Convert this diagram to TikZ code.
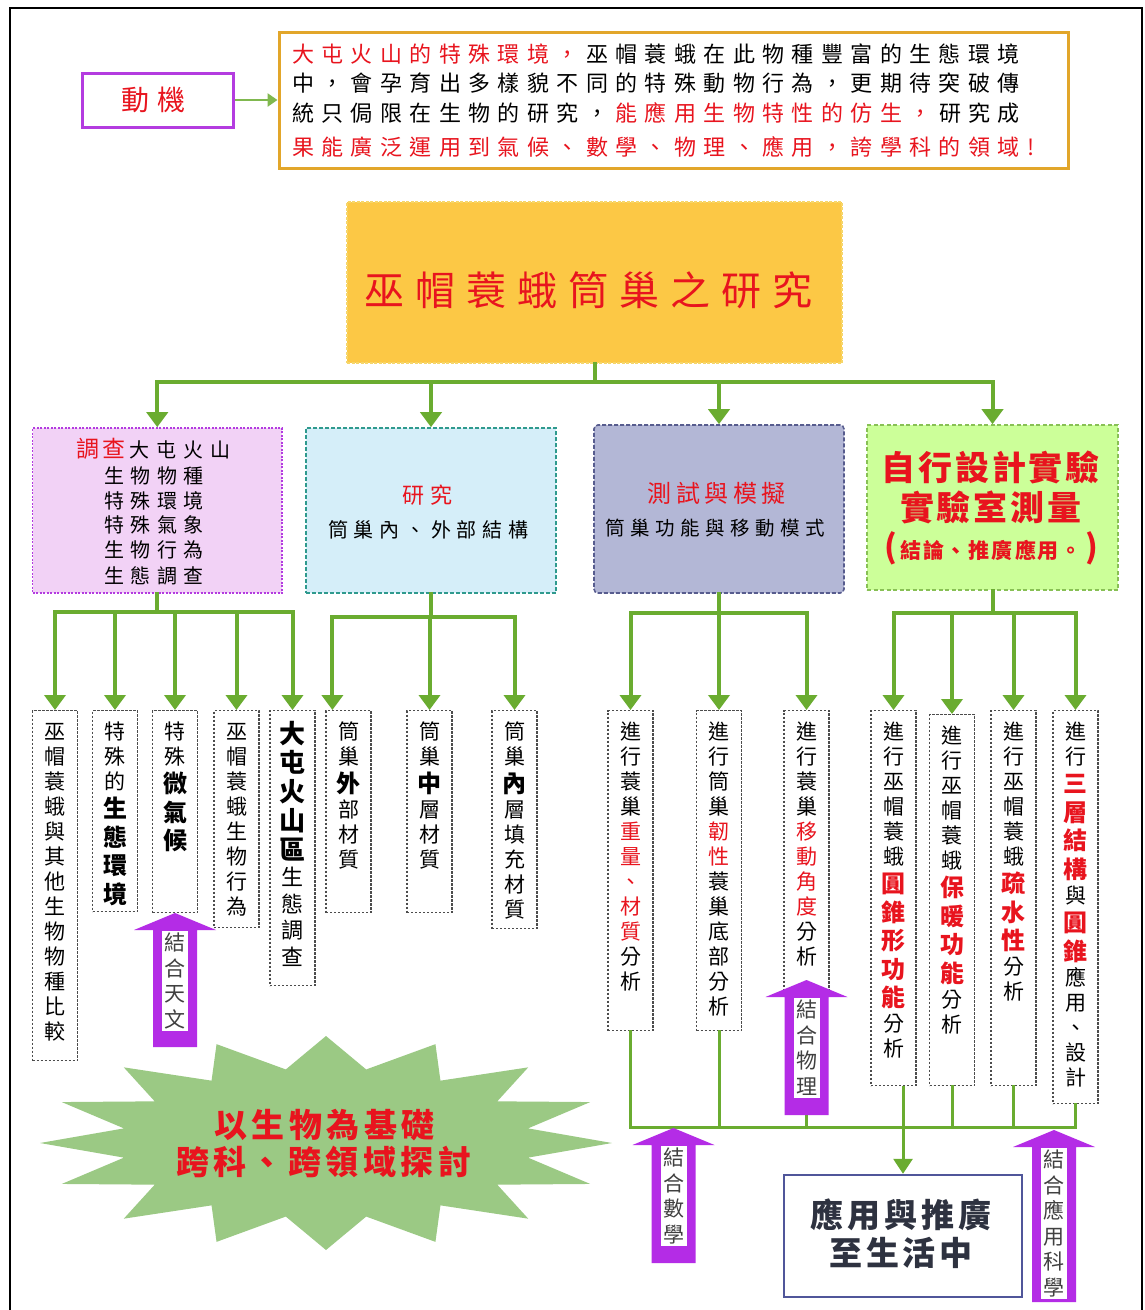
\documentclass[tikz,border=0pt]{standalone}
\usepackage{fontspec}
\setmainfont{Noto Sans CJK TC}
\usetikzlibrary{arrows.meta,calc}
\definecolor{gline}{HTML}{6AAC30}
\definecolor{cred}{HTML}{E8141E}
\definecolor{dongb}{HTML}{B43CE0}
\definecolor{gold}{HTML}{E2A62A}
\definecolor{titlef}{HTML}{FCC845}
\definecolor{titleb}{HTML}{F6D66A}
\definecolor{pinkf}{HTML}{F2D2F6}
\definecolor{pinkb}{HTML}{B33BE0}
\definecolor{bluef}{HTML}{D5EEF9}
\definecolor{blueb}{HTML}{2F9A8E}
\definecolor{lavf}{HTML}{B3B7D6}
\definecolor{lavb}{HTML}{575C8E}
\definecolor{greenf}{HTML}{CCFF99}
\definecolor{greenb}{HTML}{88C055}
\definecolor{parr}{HTML}{B42CE6}
\definecolor{starf}{HTML}{9BC984}
\definecolor{appb}{HTML}{50569A}
\definecolor{appt}{HTML}{2E3240}
\makeatletter
\def\ls@end{\ls@end}
\newcommand\LS[2]{\def\ls@gap{#1}\ls@loop#2\ls@end}
\def\ls@loop#1{\ifx#1\ls@end\else#1\hspace{\ls@gap}\expandafter\ls@loop\fi}
\newcommand\LSC[2]{\LS{#1}{#2}\hspace{-#1}}
\newcommand\ST{\rule[-.12em]{0pt}{1em}}
\def\vt@end{\vt@end}
\newcommand\V[2][30pt]{\def\vt@w{#1}\vt@loop#2\vt@end}
\def\vt@loop#1{\ifx#1\vt@end\else\hbox to \vt@w{\hss\ST#1\hss}\expandafter\vt@loop\fi}
\makeatother
\newcommand\fs[1]{\fontsize{#1}{#1}\selectfont}
\newcommand\vf[2]{\fontsize{#1}{#2}\selectfont}
\newcommand\nr{\mdseries\vf{21pt}{25pt}}
\newcommand\bd{\bfseries\vf{24pt}{28.5pt}}
\newcommand\bdL{\bfseries\vf{26pt}{29pt}}
\newcommand\nrL{\mdseries\vf{22pt}{26.5pt}}
\newcommand\VB[2]{\vbox to #1{\vskip 10pt #2\vss}}
\newcommand\PA[5]{%
  \fill[parr] (#2-22,#4) -- (#2-22,#3+17) -- (#2-41,#3+17) -- (#2,#3) -- (#2+41,#3+17) -- (#2+22,#3+17) -- (#2+22,#4) -- cycle;
  \node[fill=white,inner xsep=2pt,inner ysep=1pt,anchor=north] (#1) at (#2,#3+18) {\vbox{\mdseries\vf{21pt}{25.5pt}\color{black!75}\V[22pt]{#5}}};}
\begin{document}
\begin{tikzpicture}[x=1pt,y=-1pt,
  gl/.style={draw=gline,line width=4pt,line cap=rect},
  ga/.style={draw=gline,line width=4pt,-{Triangle[length=15pt,width=21pt]}},
  gl2/.style={draw=gline,line width=3pt,line cap=rect},
  ga2/.style={draw=gline,line width=3pt,-{Triangle[length=15pt,width=19pt]}},
  vb/.style={draw=black!70,line width=1.2pt,dash pattern=on 2.4pt off 1.6pt,fill=white,inner sep=0pt,minimum width=45pt,anchor=north},
  tx/.style={inner sep=0pt},
  cbox/.style={line width=1.6pt,inner sep=0pt}]
\useasboundingbox (0,0) rectangle (1144,1310);
\fill[white] (0,0) rectangle (1144,1310);
\draw[line width=2pt] (10,1320) -- (10,8) -- (1142,8) -- (1142,1320);

% motivation
\node[draw=dongb,line width=3pt,minimum width=151pt,minimum height=54pt,inner sep=0pt,text=cred] (dong) at (157.5,100) {\fs{28pt}\ST\LSC{8.5pt}{動機}};
\node[draw=gold,line width=3pt,minimum width=789pt,minimum height=136pt,inner sep=0pt] (mot) at (673.5,100) {};
\draw[draw=gline!85,line width=2.5pt,-{Triangle[length=10pt,width=13pt]}] (dong.east) -- (mot.west);
\node[tx,anchor=base west] (m1) at (292,62.4) {\fs{22pt}\textcolor{cred}{\LS{7.4pt}{大屯火山的特殊環境，}}\LS{7.4pt}{巫帽蓑蛾在此物種豐富的生態環境}};
\node[tx,anchor=base west] (m2) at (292,91.4) {\fs{22pt}\LS{7.4pt}{中，會孕育出多樣貌不同的特殊動物行為，更期待突破傳}};
\node[tx,anchor=base west] (m3) at (292,121.4) {\fs{22pt}\LS{7.4pt}{統只侷限在生物的研究，}\textcolor{cred}{\LS{7.4pt}{能應用生物特性的仿生，}}\LS{7.4pt}{研究成}};
\node[tx,anchor=base west,text=cred] (m4) at (292,155.4) {\fs{22pt}\LS{7.4pt}{果能廣泛運用到氣候、數學、物理、應用，誇學科的領域!}};

% title
\node[draw=titleb,fill=titlef,dash pattern=on 3pt off 1.5pt,line width=1.5pt,minimum width=495pt,minimum height=161pt,inner sep=0pt] (title) at (594.5,282.5) {};
\node[tx,text=cred] (titletext) at (594,290) {\fs{40pt}\ST\LSC{11pt}{巫帽蓑蛾筒巢之研究}};

% level 2 boxes
\node[cbox,draw=pinkb,fill=pinkf,dash pattern=on 2pt off 1.5pt,minimum width=249.5pt,minimum height=165pt] (b1) at (157.25,510.5) {};
\node[cbox,draw=blueb,fill=bluef,dash pattern=on 4pt off 2pt,minimum width=250pt,minimum height=165pt] (b2) at (431,510.5) {};
\node[cbox,draw=lavb,fill=lavf,dash pattern=on 4pt off 2pt,rounded corners=4pt,minimum width=250pt,minimum height=168pt] (b3) at (719,509) {};
\node[cbox,draw=greenb,fill=greenf,dash pattern=on 4pt off 2.5pt,minimum width=251pt,minimum height=165pt] (b4) at (992.5,507.5) {};

\node[tx] (b1l1) at (157,449) {\fs{23pt}\ST\textcolor{cred}{\LS{3.5pt}{調查}}\fs{20pt}\LSC{7pt}{大屯火山}};
\node[tx] (b1l2) at (157,476) {\fs{20pt}\ST\LSC{6.5pt}{生物物種}};
\node[tx] (b1l3) at (157,501) {\fs{20pt}\ST\LSC{6.5pt}{特殊環境}};
\node[tx] (b1l4) at (157,525) {\fs{20pt}\ST\LSC{6.5pt}{特殊氣象}};
\node[tx] (b1l5) at (157,550) {\fs{20pt}\ST\LSC{6.5pt}{生物行為}};
\node[tx] (b1l6) at (157,576) {\fs{20pt}\ST\LSC{6.5pt}{生態調查}};
\node[tx,text=cred] (b2l1) at (431,495) {\fs{22pt}\ST\LSC{7pt}{研究}};
\node[tx] (b2l2) at (431,530) {\fs{20pt}\ST\LSC{5.7pt}{筒巢內、外部結構}};
\node[tx,text=cred] (b3l1) at (719,493) {\fs{24pt}\ST\LSC{4.6pt}{測試與模擬}};
\node[tx] (b3l2) at (718,528) {\fs{19.5pt}\ST\LSC{5.6pt}{筒巢功能與移動模式}};
\node[tx,text=cred,font=\bfseries] (b4l1) at (992,468) {\fs{34pt}\ST\LSC{2.7pt}{自行設計實驗}};
\node[tx,text=cred,font=\bfseries] (b4l2) at (992,508) {\fs{34pt}\ST\LSC{2.7pt}{實驗室測量}};
\node[tx,text=cred,font=\bfseries] (b4l3) at (991,548) {{\fs{32pt}(}\hspace{3pt}{\fs{21pt}\ST\LSC{2pt}{結論、推廣應用。}}\hspace{3pt}{\fs{32pt})}};

% top connectors
\coordinate (hub) at (595,382);
\draw[gl] (title.south) -- (title.south |- hub);
\draw[gl] (b1.north |- hub) -- (b4.north |- hub);
\foreach \n in {b1,b2,b3,b4} \draw[ga] (\n.north |- hub) -- (\n.north);

% leaf boxes
\node[vb] (c1) at (55,710) {\VB{350pt}{\nr\V{巫帽蓑蛾與其他生物物種比較}}};
\node[vb] (c2) at (115,710) {\VB{201pt}{\nr\V{特殊的}\bd\V{生態環境}}};
\node[vb] (c3) at (175,710) {\VB{202pt}{\nr\V{特殊}\bd\V{微氣候}}};
\node[vb] (c4) at (236.5,710) {\VB{217pt}{\nr\V{巫帽蓑蛾生物行為}}};
\node[vb] (c5) at (292.5,710) {\VB{275pt}{\bdL\V{大屯火山區}\nrL\V{生態調查}}};
\node[vb] (d1) at (348.5,710) {\VB{202pt}{\nr\V{筒巢}\bd\V{外}\nr\V{部材質}}};
\node[vb] (d2) at (429.5,710) {\VB{202pt}{\nr\V{筒巢}\bd\V{中}\nr\V{層材質}}};
\node[vb] (d3) at (514.5,710) {\VB{218pt}{\nr\V{筒巢}\bd\V{內}\nr\V{層填充材質}}};
\node[vb] (e1) at (630.5,710) {\VB{320pt}{\nr\V{進行蓑巢}\color{cred}\V{重量、材質}\color{black}\V{分析}}};
\node[vb] (e2) at (719,710) {\VB{320pt}{\nr\V{進行筒巢}\color{cred}\V{韌性}\color{black}\V{蓑巢底部分析}}};
\node[vb] (e3) at (806.5,710) {\VB{280pt}{\nr\V{進行蓑巢}\color{cred}\V{移動角度}\color{black}\V{分析}}};
\node[vb] (f1) at (893.5,710) {\VB{375pt}{\nr\V{進行巫帽蓑蛾}\color{cred}\bd\V{圓錐形功能}\color{black}\nr\V{分析}}};
\node[vb] (f2) at (952,714) {\VB{371pt}{\nr\V{進行巫帽蓑蛾}\color{cred}\bd\V{保暖功能}\color{black}\nr\V{分析}}};
\node[vb] (f3) at (1013.5,710) {\VB{375pt}{\nr\V{進行巫帽蓑蛾}\color{cred}\bd\V{疏水性}\color{black}\nr\V{分析}}};
\node[vb] (f4) at (1075.5,710) {\VB{393pt}{\nr\V{進行}\color{cred}\bd\V{三層結構}\color{black}\nr\V{與}\color{cred}\bd\V{圓錐}\color{black}\nr\V{應用、設計}}};

% mid connectors
\coordinate (h1) at (0,612);
\draw[gl] (b1.south) -- (b1.south |- h1);
\draw[gl] (c1.north |- h1) -- (c5.north |- h1);
\foreach \n in {c1,c2,c3,c4,c5} \draw[ga] (\n.north |- h1) -- (\n.north);
\coordinate (h2) at (0,617);
\coordinate (d1in) at ([xshift=7pt]d1.north west);
\draw[gl] (b2.south) -- (b2.south |- h2);
\draw[gl] (d1in |- h2) -- (d3.north |- h2);
\draw[ga] (d1in |- h2) -- (d1in);
\foreach \n in {d2,d3} \draw[ga] (\n.north |- h2) -- (\n.north);
\coordinate (h3) at (0,613);
\draw[gl] (b3.south) -- (b3.south |- h3);
\draw[gl] (e1.north |- h3) -- (e3.north |- h3);
\foreach \n in {e1,e2,e3} \draw[ga] (\n.north |- h3) -- (\n.north);
\draw[gl] (b4.south) -- (b4.south |- h3);
\draw[gl] (f1.north |- h3) -- (f4.north |- h3);
\foreach \n in {f1,f2,f3,f4} \draw[ga] (\n.north |- h3) -- (\n.north);

% application box
\node[draw=appb,line width=2.5pt,fill=white,minimum width=238pt,minimum height=122pt,inner sep=0pt] (app) at (903,1236) {};
\node[tx,text=appt,font=\bfseries] (app1) at (903,1215) {\fs{33pt}\ST\LSC{4pt}{應用與推廣}};
\node[tx,text=appt,font=\bfseries] (app2) at (903,1253) {\fs{33pt}\ST\LSC{4pt}{至生活中}};

% bottom connectors
\coordinate (h5) at (0,1127);
\foreach \n in {e1,e2,e3,f2,f3,f4} \draw[gl2] (\n.south) -- (\n.south |- h5);
\draw[gl2] (e1.south |- h5) -- (f4.south |- h5);
\draw[ga2] (app.north |- f1.south) -- (app.north);

% star
\fill[starf] plot[variable=\t,samples at={0,1,...,31}] ({326+(206+80*(1-mod(\t,2)))*cos(\t*11.25)},{1143+(75+32*(1-mod(\t,2)))*sin(\t*11.25)}) -- cycle;
\node[tx,text=cred,font=\bfseries] (star1) at (327,1125) {\fs{33pt}\ST\LSC{4.5pt}{以生物為基礎}};
\node[tx,text=cred,font=\bfseries] (star2) at (326,1162) {\fs{33pt}\ST\LSC{4.5pt}{跨科、跨領域探討}};

% purple arrows
\PA{pa1}{175}{913}{1047}{結合天文}
\PA{pa2}{806.5}{980}{1115}{結合物理}
\PA{pa3}{673.5}{1128}{1263}{結合數學}
\PA{pa4}{1054}{1130}{1302}{結合應用科學}
\end{tikzpicture}
\end{document}
